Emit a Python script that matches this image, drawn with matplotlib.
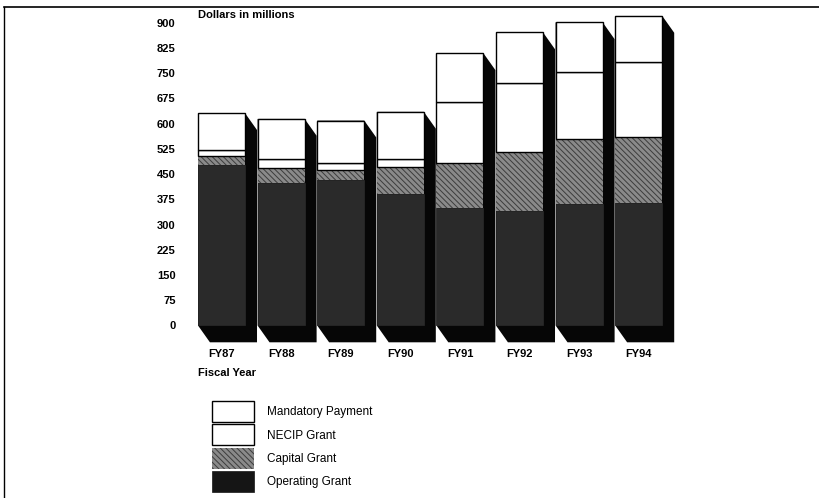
import matplotlib.pyplot as plt
from matplotlib.patches import Rectangle
from matplotlib.lines import Line2D

years = ["FY87", "FY88", "FY89", "FY90", "FY91", "FY92", "FY93", "FY94"]
operating = [477, 423, 432, 390, 350, 340, 361, 365]
capital = [27, 44, 30, 82, 134, 177, 192, 194]
necip = [18, 27, 20, 23, 179, 203, 201, 223]
mandatory = [109, 120, 127, 140, 146, 151, 147, 138]
yticks = list(range(0, 901, 75))
legend_labels = ["Mandatory Payment", "NECIP Grant", "Capital Grant", "Operating Grant"]

plt.rcParams['font.family'] = ['Liberation Sans', 'DejaVu Sans']
plt.rcParams['hatch.linewidth'] = 0.7

W, H = 820, 498
fig = plt.figure(figsize=(W / 100, H / 100), dpi=100)
ax = fig.add_axes([0.2193, 1 - 345 / H, 0.6178, (345 - 12.6) / H])
ax.set_xlim(-0.7, 7.8)
ax.set_ylim(-58, 930)

width = 0.79
depth_x = 0.2
depth_y = 50
op_color = '#2a2a2a'
cap_color = '#8a8a8a'
cap_hatch_color = '#3c3c3c'

x = list(range(len(years)))
for i in x:
    total = operating[i] + capital[i] + necip[i] + mandatory[i]
    x0 = i - width / 2
    x1 = i + width / 2
    # black drop shadow behind the front face
    ax.fill([x0, x1, x1 + depth_x, x1 + depth_x, x0 + depth_x, x0],
            [total, total, total - depth_y, -depth_y, -depth_y, 0],
            color='#060606', zorder=1, lw=0)

ax.bar(x, operating, width=width, color=op_color, edgecolor=op_color,
       lw=0.5, zorder=2)
ax.bar(x, capital, width=width, bottom=operating, color=cap_color,
       edgecolor=cap_hatch_color, hatch='\\\\\\\\\\\\', lw=0, zorder=2)
base2 = [a + b for a, b in zip(operating, capital)]
ax.bar(x, necip, width=width, bottom=base2, color='white',
       edgecolor='black', lw=1.0, zorder=2)
base3 = [a + b for a, b in zip(base2, necip)]
ax.bar(x, mandatory, width=width, bottom=base3, color='white',
       edgecolor='black', lw=1.0, zorder=3)

for s in ax.spines.values():
    s.set_visible(False)
ax.set_yticks(yticks)
ax.set_yticklabels([str(v) for v in yticks], fontsize=8, fontweight='bold')
ax.set_xticks(x)
ax.set_xticklabels(years, fontsize=8, fontweight='bold')
ax.tick_params(axis='y', length=0, pad=3)
ax.tick_params(axis='x', length=0, pad=3)

fig.text(198 / W, 1 - 15 / H, "Dollars in millions", fontsize=8,
         fontweight='bold', va='center', ha='left')
fig.text(198 / W, 1 - 373 / H, "Fiscal Year", fontsize=8,
         fontweight='bold', va='center', ha='left')

# legend: four stacked swatches with labels to the right
styles = [
    dict(facecolor='white', edgecolor='black', lw=1.0),
    dict(facecolor='white', edgecolor='black', lw=1.0),
    dict(facecolor=cap_color, edgecolor=cap_hatch_color, hatch='\\\\\\\\\\\\', lw=0),
    dict(facecolor='#151515', edgecolor='#151515', lw=0.5),
]
box_left, box_w, box_h, row_h, top = 212, 42, 21, 23.3, 401
for k, (lab, st) in enumerate(zip(legend_labels, styles)):
    y_top = top + k * row_h
    fig.add_artist(Rectangle((box_left / W, 1 - (y_top + box_h) / H),
                             box_w / W, box_h / H,
                             transform=fig.transFigure, **st))
    fig.text(267 / W, 1 - (y_top + box_h / 2 + 1) / H, lab, fontsize=8.5,
             va='center', ha='left')

# page frame: top rule and left rule
fig.add_artist(Line2D([4 / W, 1], [1 - 7 / H, 1 - 7 / H],
                      transform=fig.transFigure, color='black', lw=1.2))
fig.add_artist(Line2D([4 / W, 4 / W], [0, 1 - 7 / H],
                      transform=fig.transFigure, color='black', lw=1.0))

plt.savefig('out.png', dpi=100)
